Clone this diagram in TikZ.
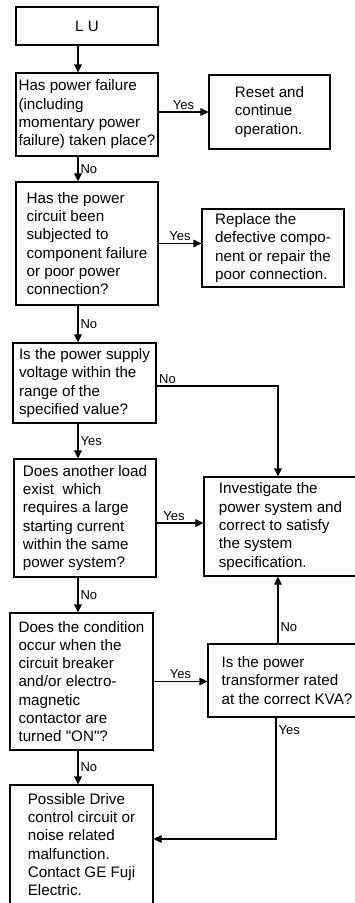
\documentclass[tikz,border=0pt]{standalone}
\usepackage{fontspec}
\setmainfont{Liberation Sans}
\usetikzlibrary{arrows.meta}

\begin{document}
\begin{tikzpicture}[x=1pt, y=-1pt,
  box/.style={draw, line width=1.15pt, align=left, inner sep=0pt,
              font=\fontsize{15.2}{18.3}\selectfont},
  arr/.style={-{Triangle[length=8pt, width=7.5pt]}, line width=1.15pt},
  lbl/.style={font=\fontsize{13}{14}\selectfont, inner sep=2pt},
]
  \useasboundingbox (0,0) rectangle (354,903);

  % main column of questions
  \node[box, minimum width=142pt, minimum height=38pt] (lu) at (87,26) {L U};
  \node[box, minimum width=142pt, minimum height=83pt] (q1) at (87,114.5)
    {Has power failure\\(including\\momentary power\\failure) taken place?};
  \node[box, minimum width=142pt, minimum height=123pt] (q2) at (87,243.5)
    {Has the power\\circuit been\\subjected to\\component failure\\or poor power\\connection?};
  \node[box, minimum width=143pt, minimum height=80pt] (q3) at (84.5,383)
    {Is the power supply\\voltage within the\\range of the\\specified value?};
  \node[box, minimum width=142pt, minimum height=118pt] (q4) at (85,518)
    {Does another load\\exist~ which\\requires a large\\starting current\\within the same\\power system?};
  \node[box, minimum width=143pt, minimum height=137pt] (q5) at (81.5,681.5)
    {Does the condition\\occur when the\\circuit breaker\\and/or electro-\\magnetic\\contactor are\\turned \textquotedbl ON\textquotedbl ?};
  \node[box, minimum width=143pt, minimum height=119pt] (drive) at (81.5,844.5)
    {Possible Drive\\control circuit or\\noise related\\malfunction.\\Contact GE Fuji\\Electric.};

  % right column
  \node[box, minimum width=121pt, minimum height=74pt] (reset) at (269.5,112)
    {Reset and\\continue\\operation.};
  \node[box, minimum width=142pt, minimum height=78pt] (replace) at (273,248)
    {Replace the\\defective compo-\\nent or repair the\\poor connection.};
  \node[box, minimum width=153pt, minimum height=99pt] (invest) at (280.5,526.5)
    {Investigate the\\power system and\\correct to satisfy\\the system\\specification.};
  \node[box, minimum width=158pt, minimum height=73pt] (kva) at (287,680.5)
    {Is the power\\transformer rated\\at the correct KVA?};

  \coordinate (spine) at (78,0);
  \coordinate (riser) at (278,0);
  \coordinate (drop) at (276,839);

  \draw[arr] (lu.south -| spine) -- (q1.north -| spine);
  \draw[arr] (q1.south -| spine) -- node[lbl, right] {No} (q2.north -| spine);
  \draw[arr] (q2.south -| spine) -- node[lbl, right] {No} (q3.north -| spine);
  \draw[arr] (q3.south -| spine) -- node[lbl, right] {Yes} (q4.north -| spine);
  \draw[arr] (q4.south -| spine) -- node[lbl, right] {No} (q5.north -| spine);
  \draw[arr] (q5.south -| spine) -- node[lbl, right] {No} (drive.north -| spine);

  \draw[arr] (q1.east |- reset.west) -- node[lbl, above] {Yes} (reset.west);
  \draw[arr] (q2.east) -- node[lbl, above] {Yes} (q2.east -| replace.west);
  \draw[arr] ([yshift=-3pt]q3.east) node[lbl, above right] {No} -| (invest.north -| riser);
  \draw[arr] ([yshift=-5pt]q4.east) -- node[lbl, above, xshift=-6pt] {Yes} ([yshift=-5pt]q4.east -| invest.west);
  \draw[arr] (q5.east) -- node[lbl, above] {Yes} (q5.east -| kva.west);
  \draw[arr] (kva.north -| riser) -- node[lbl, right, pos=0.25] {No} (invest.south -| riser);
  \draw[arr] (kva.south -| drop) -- node[lbl, right, pos=0.1] {Yes} (drop) -- (drop -| drive.east);
\end{tikzpicture}
\end{document}
